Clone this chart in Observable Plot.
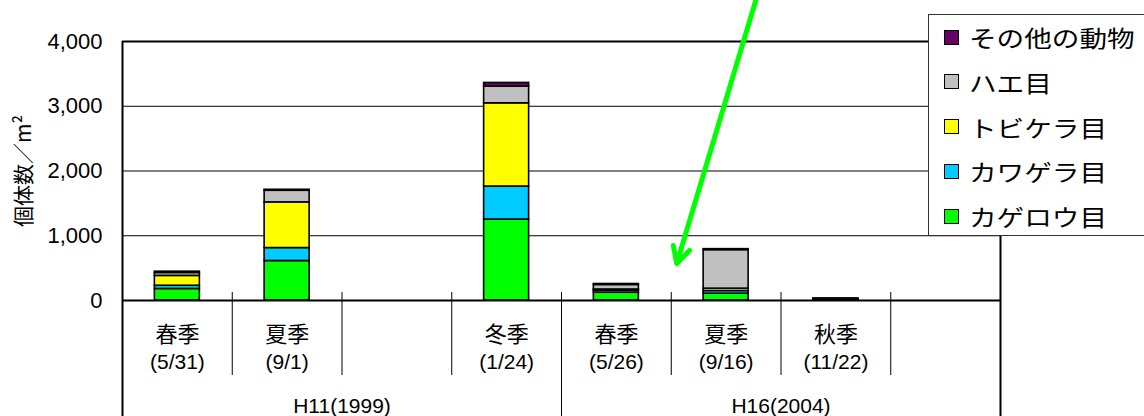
<!DOCTYPE html>
<html><head><meta charset="utf-8">
<script src="https://cdn.jsdelivr.net/npm/d3@7"></script>
<script src="https://cdn.jsdelivr.net/npm/@observablehq/plot@0.6"></script>
<style>
body{margin:0;background:#fff;}
#wrap{position:relative;width:1144px;height:416px;overflow:hidden;background:#fff;}
#legend{position:absolute;left:928px;top:14px;width:240px;height:222px;border:1px solid #333;background:#fff;box-sizing:border-box;}
.item{position:absolute;left:15px;display:flex;align-items:center;height:30px;}
.sw{width:13px;height:13px;border:1px solid #000;margin-right:10px;flex:none;}
.lab{display:inline-block;font-family:"Noto Sans CJK JP",sans-serif;font-size:23px;color:#000;white-space:nowrap;transform:scaleX(1.2);transform-origin:left center;}
</style></head><body><div id="wrap"></div>
<script>
// Categories (8 slots along the x axis, two of them empty)
const seasons = ["春季", "夏季", "", "冬季", "春季", "夏季", "秋季", ""];
const dates   = ["(5/31)", "(9/1)", "", "(1/24)", "(5/26)", "(9/16)", "(11/22)", ""];
const years   = ["H11(1999)", "H16(2004)"];
const yTicks  = [0, 1000, 2000, 3000, 4000];

// Taxa (bottom to top) and colours
const taxa   = ["カゲロウ目", "カワゲラ目", "トビケラ目", "ハエ目", "その他の動物"];
const colors = ["#00FF00", "#00CCFF", "#FFFF00", "#C0C0C0", "#660066"];

// Individuals per m² for each slot (null = no sample)
const mayfly    = [178, 610, null, 1250, 120, 105, 12, null];
const stonefly  = [50, 200, null, 510, 30, 42, 6, null];
const caddisfly = [152, 705, null, 1285, 20, 36, 4, null];
const fly       = [45, 180, null, 260, 70, 595, 5, null];
const other     = [20, 15, null, 55, 15, 15, 3, null];
const series = [mayfly, stonefly, caddisfly, fly, other];

// Annotation arrow (slot position, value)
const arrowStart = {slot: 5.77, value: 4633};
const arrowEnd   = {slot: 5.05, value: 571};

const rows = [];
series.forEach((vals, k) => vals.forEach((v, i) => {
  if (v != null) rows.push({slot: i, taxon: taxa[k], value: v});
}));
const slotLabels = seasons.map((s, i) => ({x: i + 0.5, season: s, date: dates[i]}));
const yearLabels = years.map((y, i) => ({x: i * 4 + 2, label: y}));
const innerDividers = d3.range(1, 8).filter(k => k !== 4);

const font = '"Liberation Sans","Noto Sans CJK JP",sans-serif';
const fmt = d3.format(",");

const chart = Plot.plot({
  width: 1144, height: 416,
  marginLeft: 122, marginRight: 144, marginTop: 41, marginBottom: 116,
  style: {fontFamily: font, fontSize: "22px", color: "#000", background: "#fff", overflow: "visible"},
  x: {domain: [0, 8], axis: null},
  y: {domain: [0, 4000], axis: null},
  color: {domain: taxa, range: colors},
  marks: [
    Plot.ruleY([1000, 2000, 3000], {stroke: "#000", strokeWidth: 1}),
    Plot.ruleY([4000], {stroke: "#000", strokeWidth: 2}),
    Plot.axisY({ticks: yTicks, tickFormat: d => fmt(d), tickSize: 0, tickPadding: 20, fontSize: 22, label: null}),
    Plot.text(["個体数／m²"], {frameAnchor: "left", dx: -98, rotate: -90, textAnchor: "middle", fontSize: 21, fontFamily: '"Noto Sans CJK JP",sans-serif'}),
    Plot.rectY(rows, {x1: d => d.slot + 0.295, x2: d => d.slot + 0.705, y: "value", fill: "taxon", order: taxa, stroke: "#000", strokeWidth: 1.6}),
    Plot.ruleY([0], {stroke: "#000", strokeWidth: 2}),
    Plot.ruleX(innerDividers, {x: d => d, insetTop: 251, insetBottom: -75, stroke: "#000", strokeWidth: 1}),
    Plot.ruleX([4], {x: d => d, insetTop: 251, insetBottom: -116, stroke: "#000", strokeWidth: 1}),
    Plot.ruleX([0, 8], {x: d => d, insetBottom: -116, stroke: "#000", strokeWidth: 2}),
    Plot.text(slotLabels, {x: "x", text: "season", frameAnchor: "bottom", dy: 34, lineAnchor: "middle", fontSize: 22, fontFamily: '"Noto Sans CJK JP",sans-serif'}),
    Plot.text(slotLabels, {x: "x", text: "date", frameAnchor: "bottom", dy: 62, lineAnchor: "middle", fontSize: 21}),
    Plot.text(yearLabels, {x: "x", text: "label", frameAnchor: "bottom", dy: 106, lineAnchor: "middle", fontSize: 21}),
    Plot.arrow([{a: arrowStart, b: arrowEnd}], {
      x1: d => d.a.slot, y1: d => d.a.value, x2: d => d.b.slot, y2: d => d.b.value,
      stroke: "#00FF00", strokeWidth: 5, headLength: 5.5, headAngle: 55
    })
  ]
});

const wrap = document.getElementById("wrap");
wrap.appendChild(chart);

const legend = document.createElement("div");
legend.id = "legend";
taxa.slice().reverse().forEach((t, i) => {
  const k = taxa.indexOf(t);
  const item = document.createElement("div");
  item.className = "item";
  item.style.top = (7 + i * 44.75) + "px";
  const sw = document.createElement("div");
  sw.className = "sw";
  sw.style.background = colors[k];
  const lab = document.createElement("span");
  lab.className = "lab";
  lab.textContent = t;
  item.appendChild(sw); item.appendChild(lab);
  legend.appendChild(item);
});
wrap.appendChild(legend);
</script></body></html>
